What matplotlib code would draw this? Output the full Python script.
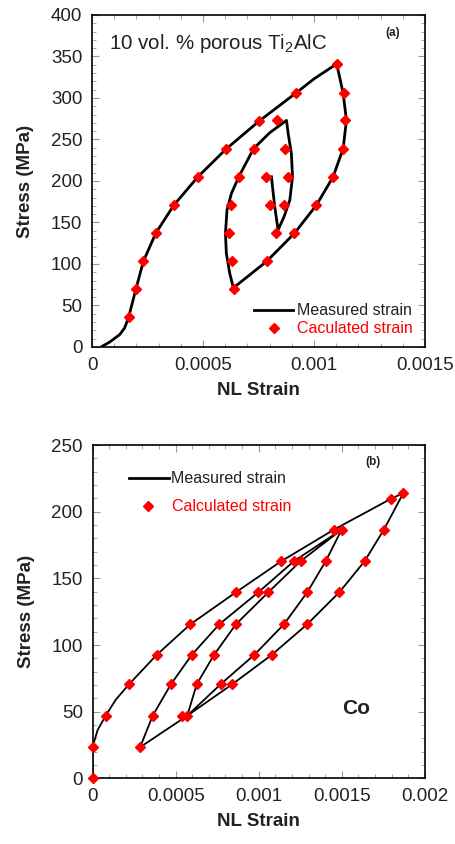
import matplotlib
matplotlib.use("Agg")
import matplotlib.pyplot as plt
from matplotlib.ticker import MultipleLocator, FuncFormatter

plt.rcParams['font.family'] = ['Liberation Sans', 'DejaVu Sans']
plt.rcParams['mathtext.fontset'] = 'custom'
plt.rcParams['mathtext.rm'] = 'Liberation Sans'
plt.rcParams['mathtext.it'] = 'Liberation Sans'

# ---- panel (a): 10 vol.% porous Ti2AlC (strain in units of 1e-3) ----
a_line_strain = [0.047, 0.080, 0.125, 0.147, 0.165, 0.198, 0.231, 0.287, 0.369, 0.477,
                 0.602, 0.752, 0.919, 1.000, 1.102,
                 1.131, 1.146, 1.131, 1.086, 1.011, 0.912, 0.786, 0.650, 0.638,
                 0.620, 0.605, 0.601, 0.608, 0.628, 0.661, 0.728, 0.800, 0.876,
                 0.883, 0.898, 0.903, 0.891, 0.865, 0.838,
                 0.823, 0.813, 0.808]
a_line_stress = [1, 6, 15, 23, 36, 70, 103, 137, 171, 205,
                 238, 272, 306, 323, 341,
                 306, 273, 239, 205, 171, 137, 103, 74, 70,
                 89, 113, 137, 165, 185, 205, 239, 258, 273,
                 258, 233, 205, 177, 157, 141,
                 169, 193, 205]

a_calc_strain = [0.165, 0.198, 0.231, 0.287, 0.369, 0.477, 0.602, 0.752, 0.919, 1.102,
                 1.134, 1.141, 1.131, 1.086, 1.011, 0.912, 0.786, 0.638,
                 0.632, 0.617, 0.625, 0.661, 0.728, 0.833,
                 0.869, 0.882, 0.865, 0.827, 0.800, 0.782]
a_calc_stress = [36, 70, 103, 137, 171, 205, 238, 272, 306, 341,
                 306, 273, 239, 205, 171, 137, 103, 70,
                 103, 137, 171, 205, 239, 273,
                 239, 205, 171, 137, 171, 205]

# ---- panel (b): Co (strain in units of 1e-3) ----
b_line_strain = [0, 0, 0.030, 0.079, 0.140, 0.220, 0.386, 0.589, 0.863, 1.136, 1.453, 1.796, 1.870,
                 1.753, 1.637, 1.485, 1.292, 1.078, 0.841, 0.570,
                 0.627, 0.731, 0.863, 1.058, 1.252, 1.499,
                 1.403, 1.292, 1.152, 0.973, 0.771, 0.570,
                 0.286,
                 0.362, 0.472, 0.597, 0.763, 0.998, 1.212, 1.499]
b_line_stress = [0, 23.3, 36, 47, 59, 70.6, 92.6, 115.6, 139.6, 162.9, 186.6, 209.7, 214,
                 186.6, 162.9, 139.6, 115.6, 92.6, 70.6, 47,
                 70.6, 92.6, 115.6, 139.6, 162.9, 186.6,
                 162.9, 139.6, 115.6, 92.6, 70.6, 47,
                 23.3,
                 47, 70.6, 92.6, 115.6, 139.6, 162.9, 186.6]

b_calc_strain = [0, 0, 0.079, 0.220, 0.386, 0.589, 0.863, 1.136, 1.453, 1.796, 1.870,
                 1.753, 1.637, 1.485, 1.292, 1.078, 0.841, 0.538,
                 0.570, 0.627, 0.731, 0.863, 1.058, 1.252, 1.499,
                 1.403, 1.292, 1.152, 0.973, 0.771,
                 0.286, 0.362, 0.472, 0.597, 0.763, 0.998, 1.212]
b_calc_stress = [0, 23.3, 47, 70.6, 92.6, 115.6, 139.6, 162.9, 186.6, 209.7, 214,
                 186.6, 162.9, 139.6, 115.6, 92.6, 70.6, 47,
                 47, 70.6, 92.6, 115.6, 139.6, 162.9, 186.6,
                 162.9, 139.6, 115.6, 92.6, 70.6,
                 23.3, 47, 70.6, 92.6, 115.6, 139.6, 162.9]


def tick_fmt(v, pos):
    if abs(v) < 1e-12:
        return '0'
    return ('%.4f' % v).rstrip('0')


def style_axes(ax, xmax, ymax):
    ax.set_xlim(0, xmax)
    ax.set_ylim(0, ymax)
    ax.xaxis.set_major_locator(MultipleLocator(0.0005))
    ax.xaxis.set_minor_locator(MultipleLocator(0.0001))
    ax.yaxis.set_major_locator(MultipleLocator(50))
    ax.yaxis.set_minor_locator(MultipleLocator(10))
    ax.xaxis.set_major_formatter(FuncFormatter(tick_fmt))
    ax.tick_params(which='both', direction='in', top=True, right=True,
                   color='#999999', labelsize=13.5, labelcolor='#222222')
    ax.tick_params(which='major', length=5, width=0.8, pad=7)
    ax.tick_params(which='minor', length=3, width=0.6)
    for s in ax.spines.values():
        s.set_linewidth(1.2)
    ax.set_xlabel('NL Strain', fontsize=13.5, fontweight='bold', color='#222222', labelpad=6)
    ax.set_ylabel('Stress (MPa)', fontsize=13.5, fontweight='bold', color='#222222', labelpad=12)


fig = plt.figure(figsize=(4.56, 8.44), dpi=100)
ax1 = fig.add_axes([0.2018, 0.5889, 0.7303, 0.3934])
ax2 = fig.add_axes([0.2029, 0.0778, 0.7290, 0.3949])

# panel (a)
ax1.plot([s * 1e-3 for s in a_line_strain], a_line_stress, color='black', lw=2)
ax1.plot([s * 1e-3 for s in a_calc_strain], a_calc_stress, 'D', color='red', ms=5.5,
         mec='red', ls='none')
style_axes(ax1, 0.0015, 400)
ax1.text(0.052, 0.915, r'10 vol. % porous Ti$_2$AlC', transform=ax1.transAxes,
         fontsize=14.8, color='#222222', va='center')
ax1.text(0.88, 0.945, '(a)', transform=ax1.transAxes, fontsize=8.5,
         fontweight='bold', color='#222222', va='center')
ax1.plot([0.485, 0.605], [0.11, 0.11], transform=ax1.transAxes, color='black', lw=2)
ax1.text(0.615, 0.11, 'Measured strain', transform=ax1.transAxes, fontsize=11.5,
         color='#222222', va='center')
ax1.plot([0.545], [0.057], 'D', transform=ax1.transAxes, color='red', ms=5.5)
ax1.text(0.615, 0.057, 'Caculated strain', transform=ax1.transAxes, fontsize=11.5,
         color='red', va='center')

# panel (b)
ax2.plot([s * 1e-3 for s in b_line_strain], b_line_stress, color='black', lw=1.3)
ax2.plot([s * 1e-3 for s in b_calc_strain], b_calc_stress, 'D', color='red', ms=5.5,
         mec='red', ls='none', clip_on=False, zorder=5)
style_axes(ax2, 0.002, 250)
ax2.text(0.82, 0.95, '(b)', transform=ax2.transAxes, fontsize=8.5,
         fontweight='bold', color='#222222', va='center')
ax2.plot([0.11, 0.23], [0.9, 0.9], transform=ax2.transAxes, color='black', lw=2)
ax2.text(0.235, 0.9, 'Measured strain', transform=ax2.transAxes, fontsize=11.5,
         color='#222222', va='center')
ax2.plot([0.168], [0.817], 'D', transform=ax2.transAxes, color='red', ms=5.5)
ax2.text(0.24, 0.817, 'Calculated strain', transform=ax2.transAxes, fontsize=11.5,
         color='red', va='center')
ax2.text(0.75, 0.21, 'Co', transform=ax2.transAxes, fontsize=15,
         fontweight='bold', color='#222222', va='center')

fig.savefig('out.png', dpi=100)
